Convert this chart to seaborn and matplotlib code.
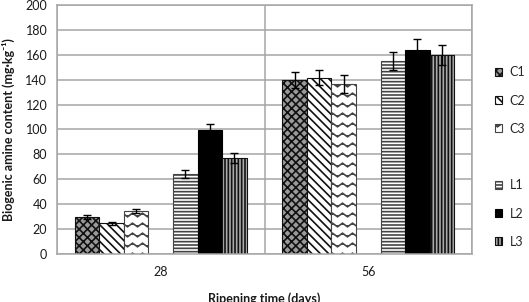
"""Biogenic amine content by ripening time, hatched grouped bars."""

import numpy as np
import pandas as pd
import matplotlib
matplotlib.use("Agg")
import matplotlib.pyplot as plt
from matplotlib import hatch as mhatch
from matplotlib.path import Path
from matplotlib.patches import Patch
import seaborn as sns

# --- data ---
days = ["28", "56"]
groups = ["C1", "C2", "C3", "L1", "L2", "L3"]
values_28 = [29.6, 24.7, 34.7, 64.3, 99.2, 77.2]
values_56 = [139.5, 141.7, 136.5, 155.0, 164.0, 159.7]
err_28 = [1.6, 1.1, 1.6, 3.4, 5.4, 4.0]
err_56 = [6.5, 6.3, 7.0, 7.4, 8.6, 8.3]
yticks = [0, 20, 40, 60, 80, 100, 120, 140, 160, 180, 200]

GAP = " "  # empty hue level that leaves the space between C and L bars
hue_order = ["C1", "C2", "C3", GAP, "L1", "L2", "L3"]

df = pd.DataFrame({
    "day": [d for d in days for _ in groups],
    "group": groups * len(days),
    "value": values_28 + values_56,
    "err": err_28 + err_56,
})
err_map = {(r.group, r.day): r.err for r in df.itertuples()}


# wavy hatch for C3 (matplotlib has none built in)
class WaveHatch(mhatch.HatchPatternBase):
    def __init__(self, hatch, density):
        self.num_lines = int(hatch.count("~") * 5)
        self.periods = 10
        self.n = self.periods * 4 + 1
        self.num_vertices = self.num_lines * self.n

    def set_vertices_and_codes(self, vertices, codes):
        xs = np.linspace(0, 1, self.n)
        off = 0.018 * np.array([0, 1, 0, -1] * self.periods + [0])
        for i in range(self.num_lines):
            sl = slice(i * self.n, (i + 1) * self.n)
            vertices[sl, 0] = xs
            vertices[sl, 1] = (i + 0.5) / self.num_lines + off
            codes[sl] = Path.LINETO
            codes[i * self.n] = Path.MOVETO


mhatch._hatch_types.append(WaveHatch)

styles = {
    "C1": dict(fc="#9a9a9a", ec="#111111", hatch="xxxx"),
    "C2": dict(fc="white", ec="#111111", hatch="\\\\\\\\"),
    "C3": dict(fc="white", ec="#444444", hatch="~~"),
    "L1": dict(fc="white", ec="#444444", hatch="-----"),
    "L2": dict(fc="black", ec="black", hatch=None),
    "L3": dict(fc="#aaaaaa", ec="#111111", hatch="|||||"),
}

sns.set_style("white")
plt.rcParams["font.family"] = ["Lato", "DejaVu Sans"]
plt.rcParams["hatch.linewidth"] = 1.2

fig = plt.figure(figsize=(5.29, 3.02), dpi=100)
ax = fig.add_axes([0.1078, 0.159, 0.7845, 0.8245])

palette = {g: "white" for g in hue_order}
sns.barplot(data=df, x="day", y="value", hue="group", order=days,
            hue_order=hue_order, palette=palette, width=0.829,
            errorbar=None, legend=False, ax=ax)

# style bars and add error bars (skip the empty gap container)
filled = [c for c in ax.containers if len(c) > 0]
xs, ys, es = [], [], []
for cont, g in zip(filled, groups):
    st = styles[g]
    for bar in cont:
        bar.set_facecolor(st["fc"])
        bar.set_edgecolor(st["ec"])
        bar.set_linewidth(0.8)
        if st["hatch"]:
            bar.set_hatch(st["hatch"])
        cx = bar.get_x() + bar.get_width() / 2
        xs.append(cx)
        ys.append(bar.get_height())
        es.append(err_map[(g, days[int(round(cx))])])
ax.errorbar(xs, ys, yerr=es, fmt="none", ecolor="black", elinewidth=1,
            capsize=3, capthick=1, zorder=3)

grid_c = "#a6a6a6"
ax.set_ylim(0, 200)
ax.set_yticks(yticks)
ax.set_xlim(-0.5, 1.5)
ax.set_axisbelow(True)
ax.yaxis.grid(True, color=grid_c, lw=1.1)
ax.set_xticks([-0.5, 0.5, 1.5], minor=True)
ax.xaxis.grid(True, which="minor", color=grid_c, lw=1.1)
ax.tick_params(axis="x", which="major", length=0, pad=9, labelsize=9,
               labelcolor="#1a1a1a")
ax.tick_params(axis="x", which="minor", length=5, color=grid_c, width=1.1)
ax.tick_params(axis="y", length=5, color=grid_c, width=1.1, labelsize=9,
               labelcolor="#1a1a1a", pad=2)
for s in ax.spines.values():
    s.set_color(grid_c)
    s.set_linewidth(1.1)

ax.set_ylabel("Biogenic amine content (mg·kg⁻¹)", fontsize=9,
              fontweight="bold", color="#1a1a1a")
ax.yaxis.set_label_coords(-0.102, 0.5)
ax.set_xlabel("Ripening time (days)", fontsize=9, fontweight="bold",
              color="#1a1a1a")
ax.xaxis.set_label_coords(0.5, -0.152)

# legend with a blank slot between the C and L groups
handles, labels = [], []
for g in hue_order:
    if g == GAP:
        handles.append(Patch(fc="none", ec="none"))
    else:
        st = styles[g]
        handles.append(Patch(fc=st["fc"], ec=st["ec"], hatch=st["hatch"], lw=0.8))
    labels.append(g.strip())
fig.legend(handles, labels, loc="center left", bbox_to_anchor=(0.935, 0.48),
           frameon=False, fontsize=9, handlelength=0.6, handleheight=0.6,
           handletextpad=0.6, labelspacing=1.3, borderpad=0, borderaxespad=0)

fig.savefig("out.png", dpi=100)
